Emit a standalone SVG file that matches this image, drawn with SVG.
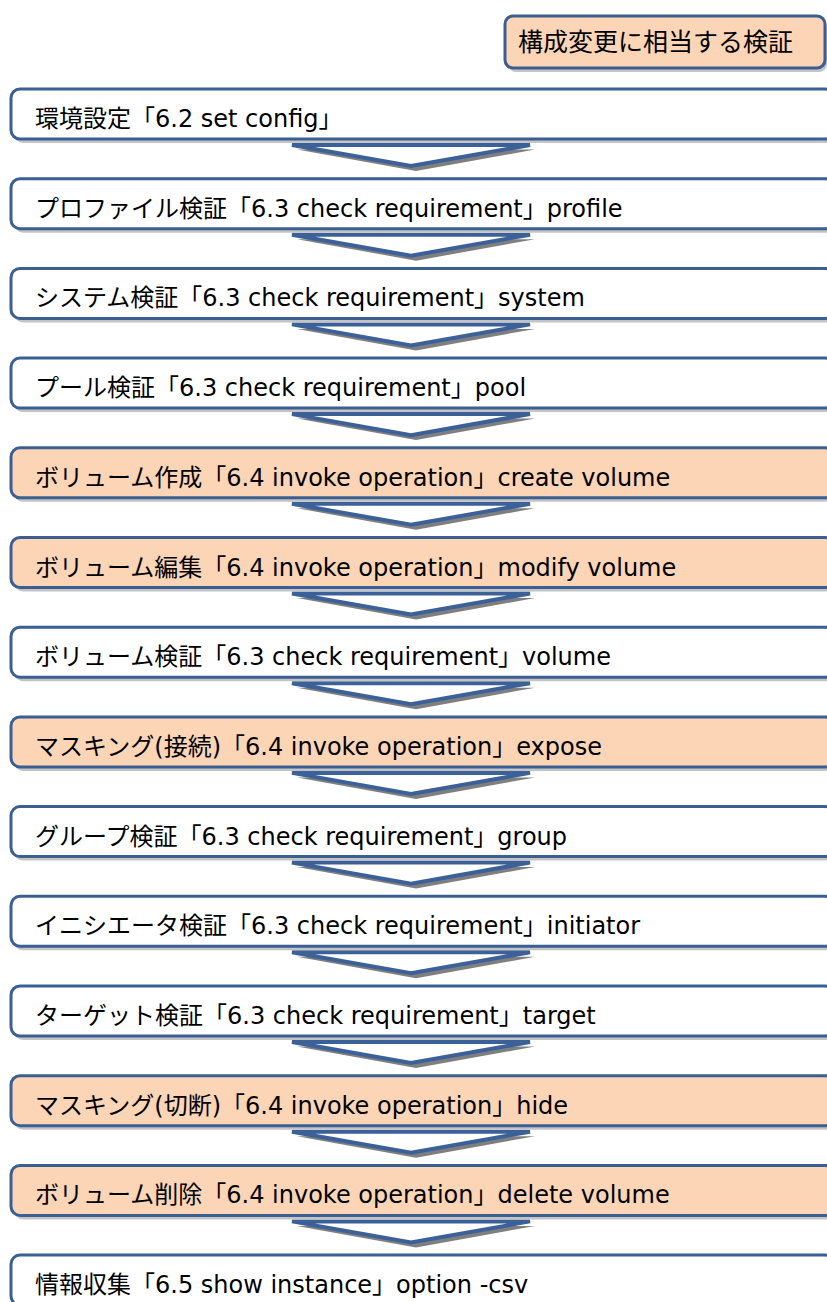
<svg xmlns="http://www.w3.org/2000/svg" width="827" height="1302" viewBox="0 0 827 1302">
<style>
.bx{fill:#ffffff;stroke:#3b5f93;stroke-width:3}
.hl{fill:#fbd5b5}
.sh{fill:#c4c4c4}
.ch{fill:#ffffff;stroke:#3c6199;stroke-width:4;stroke-linejoin:miter}
.cs{fill:#7f7f7f}
text{font-family:"DejaVu Sans","Noto Sans CJK JP",sans-serif;font-size:24px;fill:#000000}
.lg{font-size:25px}
</style>
<defs>
<rect id="shadow" x="14" y="4" width="823" height="50" rx="9" class="sh"/>
<polygon id="cshadow" points="297,60.5 535,60.5 416,82" class="cs"/>
<polygon id="chev" points="292,56 530,56 411,77" class="ch"/>
</defs>
<g id="connectors">
<g transform="translate(0,89)"><use href="#cshadow"/><use href="#chev"/></g>
<g transform="translate(0,178.7)"><use href="#cshadow"/><use href="#chev"/></g>
<g transform="translate(0,268.4)"><use href="#cshadow"/><use href="#chev"/></g>
<g transform="translate(0,358.1)"><use href="#cshadow"/><use href="#chev"/></g>
<g transform="translate(0,447.8)"><use href="#cshadow"/><use href="#chev"/></g>
<g transform="translate(0,537.5)"><use href="#cshadow"/><use href="#chev"/></g>
<g transform="translate(0,627.2)"><use href="#cshadow"/><use href="#chev"/></g>
<g transform="translate(0,716.9)"><use href="#cshadow"/><use href="#chev"/></g>
<g transform="translate(0,806.6)"><use href="#cshadow"/><use href="#chev"/></g>
<g transform="translate(0,896.3)"><use href="#cshadow"/><use href="#chev"/></g>
<g transform="translate(0,986)"><use href="#cshadow"/><use href="#chev"/></g>
<g transform="translate(0,1075.7)"><use href="#cshadow"/><use href="#chev"/></g>
<g transform="translate(0,1165.4)"><use href="#cshadow"/><use href="#chev"/></g>
</g>
<g id="legend">
<rect x="508" y="20" width="319" height="52" rx="8" class="sh"/>
<rect x="505" y="16" width="320" height="52" rx="8" class="bx hl"/>
<text x="518" y="51" class="lg">構成変更に相当する検証</text>
</g>
<g id="n1" transform="translate(0,89)"><use href="#shadow"/><rect x="11" y="0" width="823" height="50" rx="9" class="bx"/><text x="35" y="38">環境設定「6.2 set config」</text></g>
<g id="n2" transform="translate(0,178.7)"><use href="#shadow"/><rect x="11" y="0" width="823" height="50" rx="9" class="bx"/><text x="35" y="38">プロファイル検証「6.3 check requirement」profile</text></g>
<g id="n3" transform="translate(0,268.4)"><use href="#shadow"/><rect x="11" y="0" width="823" height="50" rx="9" class="bx"/><text x="35" y="38">システム検証「6.3 check requirement」system</text></g>
<g id="n4" transform="translate(0,358.1)"><use href="#shadow"/><rect x="11" y="0" width="823" height="50" rx="9" class="bx"/><text x="35" y="38">プール検証「6.3 check requirement」pool</text></g>
<g id="n5" transform="translate(0,447.8)"><use href="#shadow"/><rect x="11" y="0" width="823" height="50" rx="9" class="bx hl"/><text x="35" y="38">ボリューム作成「6.4 invoke operation」create volume</text></g>
<g id="n6" transform="translate(0,537.5)"><use href="#shadow"/><rect x="11" y="0" width="823" height="50" rx="9" class="bx hl"/><text x="35" y="38">ボリューム編集「6.4 invoke operation」modify volume</text></g>
<g id="n7" transform="translate(0,627.2)"><use href="#shadow"/><rect x="11" y="0" width="823" height="50" rx="9" class="bx"/><text x="35" y="38">ボリューム検証「6.3 check requirement」volume</text></g>
<g id="n8" transform="translate(0,716.9)"><use href="#shadow"/><rect x="11" y="0" width="823" height="50" rx="9" class="bx hl"/><text x="35" y="38">マスキング(接続)「6.4 invoke operation」expose</text></g>
<g id="n9" transform="translate(0,806.6)"><use href="#shadow"/><rect x="11" y="0" width="823" height="50" rx="9" class="bx"/><text x="35" y="38">グループ検証「6.3 check requirement」group</text></g>
<g id="n10" transform="translate(0,896.3)"><use href="#shadow"/><rect x="11" y="0" width="823" height="50" rx="9" class="bx"/><text x="35" y="38">イニシエータ検証「6.3 check requirement」initiator</text></g>
<g id="n11" transform="translate(0,986)"><use href="#shadow"/><rect x="11" y="0" width="823" height="50" rx="9" class="bx"/><text x="35" y="38">ターゲット検証「6.3 check requirement」target</text></g>
<g id="n12" transform="translate(0,1075.7)"><use href="#shadow"/><rect x="11" y="0" width="823" height="50" rx="9" class="bx hl"/><text x="35" y="38">マスキング(切断)「6.4 invoke operation」hide</text></g>
<g id="n13" transform="translate(0,1165.4)"><use href="#shadow"/><rect x="11" y="0" width="823" height="50" rx="9" class="bx hl"/><text x="35" y="38">ボリューム削除「6.4 invoke operation」delete volume</text></g>
<g id="n14" transform="translate(0,1255.1)"><use href="#shadow"/><rect x="11" y="0" width="823" height="50" rx="9" class="bx"/><text x="35" y="38">情報収集「6.5 show instance」option -csv</text></g>
</svg>
